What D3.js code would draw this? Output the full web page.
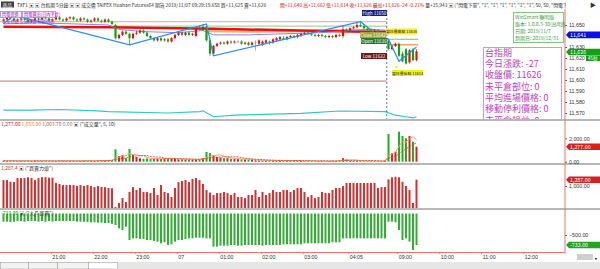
<!DOCTYPE html>
<html>
<head>
<meta charset="utf-8">
<script src="https://cdn.jsdelivr.net/npm/d3@7"></script>
<style>
body { margin: 0; background: #fff; }
svg { display: block; font-family: "Noto Sans CJK TC", "Noto Sans", sans-serif; }
</style>
</head>
<body>
<div id="chart"></div>
<script>
// bar index: 0..109 night session (19:50 - 04:55), 110..118 day session (08:45 - 09:25)
var openP = [
  11654,11655,11657,11656,11654,11655,11656,11655,11653,11654,
  11656,11655,11657,11656,11654,11655,11657,11655,11654,11656,
  11657,11655,11654,11656,11655,11653,11654,11656,11654,11653,
  11655,11653,11650,11638,11641,11644,11642,11638,11642,11643,
  11645,11643,11640,11638,11636,11638,11636,11637,11635,11638,
  11641,11643,11641,11643,11641,11640,11647,11646,11648,11636,
  11624,11631,11633,11634,11633,11635,11634,11635,11635,11633,
  11634,11632,11634,11633,11632,11634,11635,11634,11636,11637,
  11638,11637,11639,11640,11639,11640,11642,11643,11642,11641,
  11640,11641,11640,11639,11640,11639,11641,11640,11646,11645,
  11647,11648,11650,11649,11647,11646,11644,11645,11643,11642,
  11636,11628,11631,11633,11624,11628,11616,11628,11618
];
var highP = [
  11656,11658,11659,11657,11656,11657,11657,11656,11655,11657,
  11657,11658,11658,11657,11656,11658,11658,11656,11657,11658,
  11658,11656,11657,11657,11656,11655,11657,11657,11655,11656,
  11656,11654,11651,11642,11645,11645,11643,11643,11645,11646,
  11646,11644,11641,11639,11639,11639,11638,11638,11639,11642,
  11644,11644,11644,11644,11643,11648,11649,11651,11649,11637,
  11632,11634,11635,11635,11636,11636,11636,11636,11636,11635,
  11635,11635,11636,11637,11636,11637,11636,11638,11639,11640,
  11640,11640,11641,11641,11642,11643,11644,11644,11643,11642,
  11642,11642,11641,11641,11641,11642,11642,11650,11647,11648,
  11649,11652,11653,11650,11648,11647,11646,11646,11644,11643,
  11636,11632,11634,11634,11626,11629,11628,11629,11628
];
var lowP = [
  11653,11654,11655,11653,11653,11654,11654,11652,11652,11653,
  11654,11654,11655,11653,11653,11654,11654,11653,11653,11655,
  11654,11653,11653,11654,11652,11652,11653,11653,11652,11652,
  11652,11650,11637,11637,11640,11641,11632,11637,11641,11642,
  11642,11639,11637,11635,11635,11635,11635,11634,11634,11637,
  11640,11640,11640,11640,11640,11639,11645,11645,11635,11622,
  11623,11630,11632,11632,11632,11633,11633,11634,11632,11632,
  11631,11631,11627,11631,11631,11633,11632,11633,11635,11636,
  11636,11636,11638,11638,11638,11639,11641,11641,11640,11639,
  11639,11639,11638,11638,11638,11638,11639,11638,11644,11644,
  11646,11647,11648,11646,11645,11643,11643,11642,11641,11641,
  11627,11627,11630,11621,11616,11614,11615,11617,11617
];
var closeP = [
  11655,11657,11656,11654,11655,11656,11655,11653,11654,11656,
  11655,11657,11656,11654,11655,11657,11655,11654,11656,11657,
  11655,11654,11656,11655,11653,11654,11656,11654,11653,11655,
  11653,11651,11638,11641,11644,11642,11638,11642,11643,11645,
  11643,11640,11638,11636,11638,11636,11637,11635,11638,11641,
  11643,11641,11643,11641,11642,11647,11646,11648,11636,11624,
  11631,11633,11634,11633,11635,11634,11635,11635,11633,11634,
  11632,11634,11634,11636,11635,11636,11634,11637,11638,11639,
  11637,11639,11640,11639,11641,11642,11643,11642,11641,11640,
  11641,11640,11639,11640,11639,11641,11640,11646,11645,11647,
  11648,11650,11649,11647,11646,11644,11645,11643,11642,11642,
  11628,11631,11633,11622,11617,11615,11627,11618,11626
];
var volume = [
  80,60,90,70,50,60,80,70,60,90,70,60,80,50,70,60,90,80,60,70,
  80,60,70,90,80,60,70,90,120,130,150,140,
  1060,490,570,300,1085,570,400,300,250,280,230,250,270,260,280,270,260,250,200,210,
  190,200,180,200,210,300,830,740,570,400,350,300,300,250,230,220,200,200,180,
  150,120,110,100,100,110,100,90,100,100,90,100,110,100,
  60,50,70,60,50,60,70,50,60,80,60,120,300,200,80,60,70,60,50,60,70,60,50,60,70,
  2370,720,855,2560,2200,2000,2200,1710,1277
];
var power = [
  1270,1270,1195,1180,1360,1360,1360,1400,1360,1270,1360,1400,1400,1380,1380,1140,
  1090,1045,1045,1045,1045,1000,1045,1000,1045,1000,950,1000,955,950,910,900,
  45,230,450,270,730,950,820,910,730,730,680,910,590,1045,730,680,500,910,1180,1230,
  1270,1180,1320,1360,1270,1090,820,700,590,680,680,730,680,590,680,500,500,450,590,590,
  820,500,730,590,680,820,730,730,820,820,730,820,910,
  910,730,500,590,450,500,730,680,680,820,910,910,1000,1140,1140,1140,1140,1140,1140,1140,
  1140,1140,910,950,950,
  1300,1395,1420,1395,1195,1000,820,230,1287
];
var outside = [
  -190,-190,-198,-190,-175,-175,-190,-175,-175,-175,-190,-175,-190,-175,-190,-175,
  -175,-175,-175,-175,-175,-190,-190,-190,-198,-205,-205,-213,-213,-221,-221,-240,
  -267,-345,-384,-306,-616,-578,-578,-593,-593,-616,-616,-640,-655,-693,-670,-733,-717,-655,
  -616,-616,-593,-578,-578,-562,-562,-562,-578,-578,-771,-771,-748,-748,-748,-733,-733,-748,
  -748,-733,-733,-733,-733,-733,-748,-733,-733,-733,-733,-733,-717,-717,-717,-717,-717,
  -717,-693,-693,-693,-693,-693,-693,-693,-693,-670,-670,-670,-578,-578,-578,-578,-578,
  -578,-578,-578,-578,-578,-578,-578,-578,
  -190,-190,-205,-384,-616,-578,-655,-849,-733
];

// overlay lines in the price pane: [bar index, price]
var zigzag = [[0, 11651], [3, 11659], [36, 11632], [58, 11651], [60, 11622], [102, 11653], [106, 11643], [110, 11637], [113, 11617], [118, 11630]];
var redLine = [[0, 11648.5], [30, 11648], [60, 11646.5], [85, 11645], [110, 11643.5], [118, 11643]];
var purpleLine = [[0, 11651], [10, 11652], [20, 11651], [30, 11650], [33, 11646], [40, 11644], [50, 11643], [57, 11645],
  [60, 11641], [70, 11641], [80, 11642], [90, 11643], [100, 11645], [105, 11646], [109, 11645]];
var orangeLine = [[58, 11644.5], [70, 11644], [85, 11644.5], [100, 11645.5], [109.4, 11645]];
var dayOrange = [[109.6, 11632], [118.5, 11632]];
var dayGreen = [[109.6, 11637], [118.5, 11637]];
var cyanLine = [[0, 11572.7], [8, 11572.7], [16, 11573.2], [27, 11572], [30, 11571.2], [47, 11570], [56, 11571.2], [57, 11572],
  [60, 11566.6], [66, 11568], [85, 11569.7], [96, 11571.8], [109, 11571.2], [112, 11568], [115, 11566.6], [117, 11565.5], [118, 11566.6]];
var prevClose = 11653, prevMid = 11649, refLevel = 11599;

var priceTicks = [11650, 11630, 11620, 11610, 11600, 11590, 11580, 11570];
var timeIdx = [14, 26, 38, 50, 62, 74, 86, 99, 113, 125, 137, 149];
var timeLabels = ["21:00", "22:00", "23:00", "07", "01:00", "02:00", "03:00", "04:05", "09:00", "10:00", "11:00", "12:00"];

var infoLines = ["台指期", "今日漲跌: -27", "收盤價: 11626", "未平倉部位: 0", "平均進場價格: 0", "移動停利價格: 0", "未平倉損益: 0"];
var winLines = ["WinSmart 聯明版", "版本: 1.0.0.3-30(高明版)", "日期: 2019/11/7", "到期日: 2019/12/31"];

var W = 600, H = 269, axisX = 565;
var RED = "#e01010", GREEN = "#10a010";

var svg = d3.select("#chart").append("svg")
  .attr("width", W)
  .attr("height", H);

var x = d3.scaleLinear().domain([0, 149]).range([3.5, 525]);
var yP = d3.scaleLinear().domain([11570, 11650]).range([113, 25]);
var yV = d3.scaleLinear().domain([0, 2000]).range([161.7, 138.3]);
var yF = d3.scaleLinear().domain([0, 1000]).range([208, 186]);
var yG = d3.scaleLinear().domain([0, -500]).range([213.5, 235]);

var defs = svg.append("defs");
defs.append("clipPath").attr("id", "cp").append("rect").attr("x", 0).attr("y", 10).attr("width", axisX).attr("height", 109);

var bars = d3.range(closeP.length);
var up = i => closeP[i] >= openP[i];

// ---------- price pane
var pane = svg.append("g").attr("clip-path", "url(#cp)");

pane.append("line").attr("x1", 0).attr("x2", x(109.5)).attr("y1", yP(refLevel)).attr("y2", yP(refLevel))
  .attr("stroke", "#c87070").attr("stroke-width", 1);
pane.append("line").attr("x1", 0).attr("x2", x(109.5)).attr("y1", yP(prevClose)).attr("y2", yP(prevClose))
  .attr("stroke", "#cfc890").attr("stroke-width", 1.2);
pane.append("line").attr("x1", x(30)).attr("x2", x(109.5)).attr("y1", yP(prevMid)).attr("y2", yP(prevMid))
  .attr("stroke", "#90c890").attr("stroke-width", 1);

var line = d3.line().x(d => x(d[0])).y(d => yP(d[1]));
pane.append("path").attr("d", line(orangeLine)).attr("fill", "none").attr("stroke", "#f4b070").attr("stroke-width", 2.2);
pane.append("path").attr("d", line(dayOrange)).attr("fill", "none").attr("stroke", "#f4a060").attr("stroke-width", 1.5);
pane.append("path").attr("d", line(dayGreen)).attr("fill", "none").attr("stroke", "#90c890").attr("stroke-width", 1.2);
pane.append("path").attr("d", line(redLine)).attr("fill", "none").attr("stroke", "#e81010").attr("stroke-width", 2.5);
pane.append("path").attr("d", line(purpleLine)).attr("fill", "none").attr("stroke", "#8a70e0").attr("stroke-width", 0.9);
pane.append("path").attr("d", line(cyanLine)).attr("fill", "none").attr("stroke", "#30c8c0").attr("stroke-width", 1.2);

pane.selectAll(".wick").data(bars).enter().append("line")
  .attr("x1", i => x(i)).attr("x2", i => x(i))
  .attr("y1", i => yP(highP[i])).attr("y2", i => yP(lowP[i]))
  .attr("stroke", i => closeP[i] == openP[i] ? "#888" : (up(i) ? RED : GREEN)).attr("stroke-width", 0.7);
pane.selectAll(".body").data(bars).enter().append("rect")
  .attr("x", i => x(i) - 1.1).attr("width", 2.2)
  .attr("y", i => yP(Math.max(openP[i], closeP[i])))
  .attr("height", i => Math.max(0.7, Math.abs(yP(openP[i]) - yP(closeP[i]))))
  .attr("fill", i => closeP[i] == openP[i] ? "#888" : (up(i) ? RED : GREEN));

pane.append("path").attr("d", line(zigzag)).attr("fill", "none").attr("stroke", "#2a8cf0").attr("stroke-width", 1.2);

// session divider
pane.append("line").attr("x1", x(109.5)).attr("x2", x(109.5)).attr("y1", 10).attr("y2", 119)
  .attr("stroke", "#4040d0").attr("stroke-dasharray", "2,2").attr("stroke-width", 0.8);

// level labels
function tagBox(x0, yc, w, txt, bg, fg, fs) {
  pane.append("rect").attr("x", x0).attr("y", yc - 3).attr("width", w).attr("height", 6).attr("fill", bg);
  pane.append("text").attr("x", x0 + w / 2).attr("y", yc + 1.6).attr("text-anchor", "middle")
    .attr("font-size", fs || 4.6).attr("fill", fg).text(txt);
}
tagBox(362, 13, 25, "High 11650", "#14207a", "#fff");
tagBox(360, 35, 26, "Close 11642", "#a8a040", "#fff");
tagBox(386, 31.5, 31, "當日最高點 11636", "#f4f020", "#222", 3.9);
tagBox(361, 41, 26, "Open 11636", "#2a7a2a", "#fff");
tagBox(361, 56, 26, "Low 11622", "#701818", "#fff");
tagBox(392, 73, 31, "當日最低點 11614", "#f4f020", "#222", 3.9);
pane.append("path").attr("d", "M394,40 l1.5,-2.5 l1.5,2.5 Z").attr("fill", "#e8e020");
pane.append("path").attr("d", "M395,66 l1.5,2.5 l1.5,-2.5 Z").attr("fill", "#e8e020");

// top-left legend
pane.append("rect").attr("x", 0.5).attr("y", 11.5).attr("width", 21).attr("height", 6).attr("fill", "#fbf2fd").attr("stroke", "#b050d0").attr("stroke-width", 0.6);
pane.append("rect").attr("x", 22.5).attr("y", 11.5).attr("width", 33).attr("height", 6).attr("fill", "#fbf2fd").attr("stroke", "#b050d0").attr("stroke-width", 0.6);
pane.append("text").attr("x", 2).attr("y", 16.3).attr("font-size", 4.2).attr("fill", "#a030c0").text("閃電買進");
pane.append("text").attr("x", 24).attr("y", 16.3).attr("font-size", 4.2).attr("fill", "#a030c0").text("閃電賣出(日內平倉)");
pane.append("text").attr("x", 2).attr("y", 23).attr("font-size", 4.2).attr("fill", "#a030c0").text("多單停損 空單停損 移動停利");

// info boxes
pane.append("rect").attr("x", 483.5).attr("y", 47.5).attr("width", 78).attr("height", 80)
  .attr("fill", "#fff").attr("stroke", "#d890d8");
pane.append("g").selectAll("text").data(infoLines).enter().append("text")
  .attr("x", 485).attr("y", (d, i) => 55.8 + i * 11.3)
  .attr("font-size", 9).attr("fill", "#c040c0").text(d => d);

pane.append("rect").attr("x", 513.5).attr("y", 12.5).attr("width", 50).attr("height", 30)
  .attr("fill", "#fff").attr("stroke", "#80c880");
pane.append("g").selectAll("text").data(winLines).enter().append("text")
  .attr("x", 515).attr("y", (d, i) => 19 + i * 7)
  .attr("font-size", 5).attr("fill", "#40a040").text(d => d);

// ---------- volume pane
svg.append("g").selectAll("rect").data(bars).enter().append("rect")
  .attr("x", i => x(i) - 1).attr("width", 2)
  .attr("y", i => yV(volume[i])).attr("height", i => yV(0) - yV(volume[i]))
  .attr("fill", i => up(i) ? "#dd2020" : "#20b020");

// volume moving averages (5, 10)
function movingAvg(n) {
  return bars.map(i => [i, d3.mean(volume.slice(Math.max(0, i - n + 1), i + 1))]);
}
var vline = d3.line().x(d => x(d[0])).y(d => yV(d[1]));
svg.append("path").attr("d", vline(movingAvg(5))).attr("fill", "none").attr("stroke", "#f0a070").attr("stroke-width", 1);
svg.append("path").attr("d", vline(movingAvg(10))).attr("fill", "none").attr("stroke", "#c84020")
  .attr("stroke-width", 0.8).attr("stroke-dasharray", "2,1");

// ---------- buy/sell power pane
svg.append("g").selectAll("rect").data(bars).enter().append("rect")
  .attr("x", i => x(i) - 1).attr("width", 2)
  .attr("y", i => yF(power[i])).attr("height", i => yF(0) - yF(power[i]))
  .attr("fill", "#d83030");

// ---------- outside volume pane
svg.append("g").selectAll("rect").data(bars).enter().append("rect")
  .attr("x", i => x(i) - 1).attr("width", 2)
  .attr("y", yG(0)).attr("height", i => yG(outside[i]) - yG(0))
  .attr("fill", "#30b030");

// pane separators
[120, 164, 209].forEach(function(yy) {
  svg.append("line").attr("x1", 0).attr("x2", W).attr("y1", yy).attr("y2", yy).attr("stroke", "#a0a0a0").attr("stroke-width", 1.5);
});

// ---------- right axes
var fmt = d3.format(",");
var fmt2 = d3.format(",.2f");
function rightAxis(scale, ticks, f) {
  var g = svg.append("g").attr("transform", `translate(${axisX},0)`)
    .call(d3.axisRight(scale).tickValues(ticks).tickSize(2).tickFormat(f));
  g.select(".domain").remove();
  g.selectAll("line").attr("stroke", "#555");
  g.selectAll("text").attr("font-size", 5.3).attr("fill", "#333").attr("x", 4);
}
rightAxis(yP, priceTicks, fmt);
rightAxis(yV, [0, 2000], fmt2);
rightAxis(yF, [1000], fmt2);
rightAxis(yG, [-500], fmt2);

function axisTag(yc, txt, bg) {
  svg.append("path").attr("d", `M${axisX + 1},${yc} L${axisX + 4},${yc - 3.3} L${W},${yc - 3.3} L${W},${yc + 3.3} L${axisX + 4},${yc + 3.3} Z`)
    .attr("fill", bg);
  svg.append("text").attr("x", axisX + 5).attr("y", yc + 2).attr("font-size", 5.3).attr("fill", "#fff").text(txt);
}
axisTag(yP(11641), "11,641", "#0a10e8");
axisTag(yP(11626) + 0.6, "11,626", "#14a014");
svg.append("rect").attr("x", 586).attr("y", 55.5).attr("width", 14).attr("height", 5.5).attr("fill", "#14a014");
svg.append("text").attr("x", 588).attr("y", 59.8).attr("font-size", 4.6).attr("fill", "#fff").text("45秒");
axisTag(yV(volume[118]), "1,277.00", "#d42020");
axisTag(yF(power[118]), "1,287.00", "#d42020");
axisTag(yG(outside[118]), "-733.00", "#20a820");

svg.append("line").attr("x1", axisX).attr("x2", axisX).attr("y1", 0).attr("y2", 253).attr("stroke", "#f07070").attr("stroke-width", 1);

// ---------- time axis
var xt = d3.scaleLinear().domain([0, 149]).range([1.75, 523.25]);
var tg = svg.append("g").attr("transform", "translate(0,252)")
  .call(d3.axisBottom(xt).tickValues(timeIdx).tickSize(2).tickFormat((d, k) => timeLabels[k]));
tg.select(".domain").attr("stroke", "#f07070").attr("d", `M0,0.5H${axisX}`);
tg.selectAll("line").attr("stroke", "#f07070");
tg.selectAll("text").attr("font-size", 5.3).attr("fill", "#333").attr("text-anchor", "start").attr("x", 1).attr("y", 3);

// ---------- pane headers
function header(y0, parts) {
  var t = svg.append("text").attr("x", 1).attr("y", y0).attr("font-size", 5);
  parts.forEach(p => t.append("tspan").attr("fill", p[1]).text(p[0] + " "));
}
header(125.5, [["1,277.00", "#d42020"], ["1,058.00", "#f08040"], ["1,003.70", "#c06040"], ["0.00", "#888"], ["▣ (\"成交量\", 5, 10)", "#333"]]);
header(169.5, [["1,287.4", "#d42020"], ["▣ (\"買賣力道\")", "#333"]]);
header(214.5, [["-733.00", "#20a820"], ["▣ (\"大戶買賣\")", "#333"]]);

// ---------- toolbar
svg.append("rect").attr("x", 0).attr("y", 0).attr("width", W).attr("height", 9).attr("fill", "#fcfcfc");
svg.append("rect").attr("x", 1).attr("y", 1.5).attr("width", 13).attr("height", 6).attr("fill", "#404040");
svg.append("text").attr("x", 2.5).attr("y", 6.5).attr("font-size", 4.8).attr("fill", "#fff").text("商品");
svg.append("text").attr("x", 17).attr("y", 6.5).attr("font-size", 4.8).attr("fill", "#333")
  .text("TXF1 ▣ ▣ 台指期 5分鐘 ▣ ▣ 成交價  TAIFEX Huahan Futures64 期貨  2019/11/07  09:29:19.658  買+11,625  賣+11,626");
var t2 = svg.append("text").attr("x", 280).attr("y", 6.5).attr("font-size", 4.8);
t2.append("tspan").attr("fill", "#d42020").text("開+11,640 高+11,662 低+11,614 收+11,626 最高+11,626 -24 -0.21% ");
t2.append("tspan").attr("fill", "#333").text("量+15,943 ▣ (\"閃電下單\", \"1\", \"1\", \"1\", \"1\", \"1\", \"1\", 50, 50, \"閃電下單");
svg.append("rect").attr("x", axisX + 1).attr("y", 0).attr("width", W - axisX).attr("height", 9).attr("fill", "#fff");
svg.append("text").attr("x", 590).attr("y", 7).attr("font-size", 6).attr("fill", "#333").text("▶");

// ---------- bottom tabs and scrollbar
svg.append("rect").attr("x", 0).attr("y", 262).attr("width", W).attr("height", 7).attr("fill", "#e6e6e6");
[[0, 28], [28, 29], [57, 31], [88, 29]].forEach(function(t, k) {
  svg.append("rect").attr("x", t[0] + 0.5).attr("y", 262.5).attr("width", t[1]).attr("height", 6.5)
    .attr("fill", k == 3 ? "#fff" : "#f2f2f2").attr("stroke", "#999").attr("stroke-width", 0.5);
});
svg.append("rect").attr("x", 577).attr("y", 254).attr("width", 16).attr("height", 6).attr("fill", "#cfcfcf");
svg.append("text").attr("x", 595).attr("y", 259.5).attr("font-size", 5).attr("fill", "#333").text("▸");
</script>
</body>
</html>
